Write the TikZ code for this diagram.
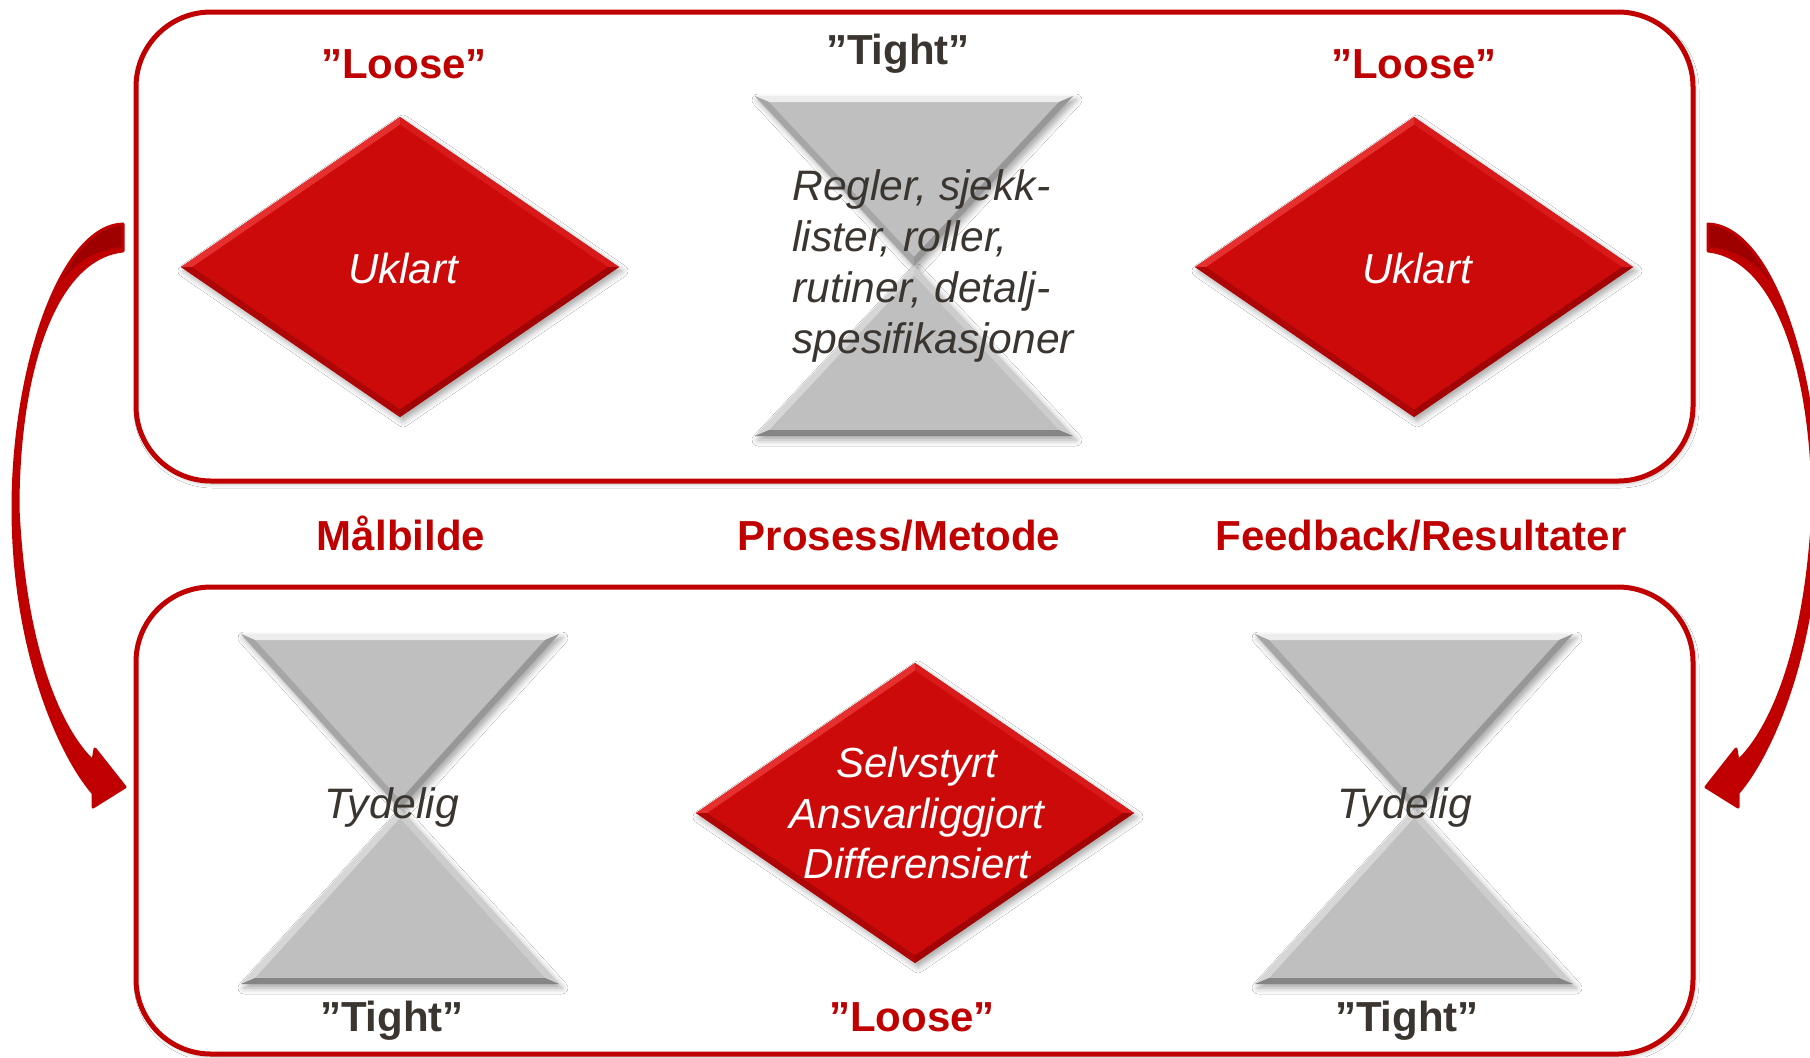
\documentclass[tikz,border=0pt]{standalone}
\usepackage{fontspec}
\setmainfont{Liberation Sans}
\usetikzlibrary{shadows.blur}
\definecolor{boxred}{HTML}{C00000}
\definecolor{dmred}{HTML}{CC0A0A}
\definecolor{dmlight}{HTML}{E63030}
\definecolor{dmmid}{HTML}{D81A1A}
\definecolor{dmdark}{HTML}{A00404}
\definecolor{dmdarkb}{HTML}{AE0606}
\definecolor{txtdark}{HTML}{3B3530}
\definecolor{hgfill}{HTML}{BFBFBF}
\definecolor{hgtop}{HTML}{EDEDED}
\definecolor{hgleft}{HTML}{A6A6A6}
\definecolor{hgright}{HTML}{979797}
\definecolor{hgbl}{HTML}{D6D6D6}
\definecolor{hgbr}{HTML}{CDCDCD}
\definecolor{hgbot}{HTML}{858585}
\definecolor{arrback}{HTML}{9E0000}

\tikzset{
 boxframe/.style={draw=boxred, line width=2.5pt, rounded corners=37.5pt, fill=white,
   blur shadow={shadow xshift=1pt, shadow yshift=-1.5pt, shadow blur radius=2pt, shadow opacity=25}},
 redlabel/.style={text=boxred, font=\bfseries\fontsize{21}{25}\selectfont, anchor=base, inner sep=0pt},
 darklabel/.style={text=txtdark, font=\bfseries\fontsize{21}{25}\selectfont, anchor=base, inner sep=0pt},
 whiteit/.style={text=white, font=\itshape\fontsize{21}{25}\selectfont, anchor=base, inner sep=0pt},
 darkit/.style={text=txtdark, font=\itshape\fontsize{21.3}{25}\selectfont, anchor=base, inner sep=0pt},
 softshadow/.style={blur shadow={shadow xshift=1.5pt, shadow yshift=-2pt, shadow blur radius=3pt, shadow opacity=35}},
 arrowbody/.style={fill=boxred},
 arrowrim/.style={draw=boxred, line width=1.5pt, line join=round},
}

\newcommand\drawbevdiamond[1]{%
 \begin{scope}[shift={(#1)}]
  \fill[dmred, softshadow] (0,-150) -- (219,0) -- (0,150) -- (-219,0) -- cycle;
  \fill[dmlight] (-219,0) -- (0,-150) -- (0,-142.5) -- (-208,0) -- cycle;
  \fill[dmmid] (0,-150) -- (219,0) -- (208,0) -- (0,-142.5) -- cycle;
  \fill[dmdark] (219,0) -- (0,150) -- (0,142.5) -- (208,0) -- cycle;
  \fill[dmdarkb] (0,150) -- (-219,0) -- (-208,0) -- (0,142.5) -- cycle;
 \end{scope}}

% #1 centre, #2 half height
\newcommand\drawhourglass[2]{%
 \begin{scope}[shift={(#1)}]
  \fill[hgfill, softshadow] (-159,-#2) -- (159,-#2) -- (0,0) -- cycle;
  \fill[hgfill, softshadow] (-159,#2) -- (159,#2) -- (0,0) -- cycle;
  \fill[hgtop] (-159,-#2) -- (159,-#2) -- (145,-#2+6) -- (-145,-#2+6) -- cycle;
  \fill[hgright] (159,-#2) -- (0,0) -- (0,-9) -- (145,-#2+6) -- cycle;
  \fill[hgleft] (0,0) -- (-159,-#2) -- (-145,-#2+6) -- (0,-9) -- cycle;
  \fill[hgbl] (0,0) -- (-159,#2) -- (-145,#2-6) -- (0,9) -- cycle;
  \fill[hgbr] (159,#2) -- (0,0) -- (0,9) -- (145,#2-6) -- cycle;
  \fill[hgbot] (-159,#2) -- (159,#2) -- (145,#2-6) -- (-145,#2-6) -- cycle;
 \end{scope}}

\newcommand\arrowoutline{(123,224) .. controls (60,226) and (13,370) .. (13,508)
     .. controls (13,650) and (60,755) .. (93,793) -- (93,807) -- (125,787) -- (95,749) -- (93,761)
     .. controls (65,735) and (25,660) .. (18,508)
     .. controls (18,370) and (55,258) .. (123,251) -- cycle}

\newcommand\drawcurvearrow{%
  \fill[arrowbody] \arrowoutline;
  \begin{scope}
    \clip \arrowoutline;
    \fill[arrback] (135,190) -- (135,247) -- (123,247) .. controls (75,250) and (40,290) .. (22,380)
       -- (0,380) -- (0,190) -- cycle;
  \end{scope}
  \draw[arrowrim] \arrowoutline;}

\begin{document}
\begin{tikzpicture}[x=0.5pt, y=-0.5pt]
\clip (0,0) rectangle (1810,1057);
\fill[white] (0,0) rectangle (1810,1057);

% frames
\draw[boxframe] (136,12) rectangle (1693,481);
\draw[boxframe] (136,587) rectangle (1693,1054);

% curved arrows
\drawcurvearrow
\begin{scope}[shift={(1831,0)}, xscale=-1]
\drawcurvearrow
\end{scope}

% shape anchors
\coordinate (dmL) at (400,267);
\coordinate (dmR) at (1414,267);
\coordinate (dmB) at (915,813);
\coordinate (hgT) at (914,266);
\coordinate (hgL) at (400,809);
\coordinate (hgR) at (1414,809);

\drawbevdiamond{dmL}
\drawbevdiamond{dmR}
\drawbevdiamond{dmB}
\drawhourglass{hgT}{170}
\drawhourglass{hgL}{175}
\drawhourglass{hgR}{175}

% top labels
\node[redlabel] (looseTL) at (404,78) {”Loose”};
\node[darklabel] (tightT) at (898,64) {”Tight”};
\node[redlabel] (looseTR) at (1414,78) {”Loose”};

% middle labels
\node[redlabel] (malb) at (401,550) {Målbilde};
\node[redlabel] (prosm) at (899,550) {Prosess/Metode};
\node[redlabel] (feedr) at (1421,550) {Feedback/Resultater};

% bottom labels
\node[darklabel] (tightBL) at (392,1031) {”Tight”};
\node[redlabel] (looseB) at (912,1031) {”Loose”};
\node[darklabel] (tightBR) at (1407,1031) {”Tight”};

% diamond texts
\node[whiteit] (uklL) at (403,283) {Uklart};
\node[whiteit] (uklR) at (1417,283) {Uklart};
\node[whiteit] (selv1) at (917,777) {Selvstyrt};
\node[whiteit] (selv2) at (917,828) {Ansvarliggjort};
\node[whiteit] (selv3) at (917,878) {Differensiert};

% hourglass texts
\node[darkit, anchor=base west] (reg1) at (792,200) {Regler, sjekk-};
\node[darkit, anchor=base west] (reg2) at (792,251) {lister, roller,};
\node[darkit, anchor=base west] (reg3) at (792,302) {rutiner, detalj-};
\node[darkit, anchor=base west] (reg4) at (792,353) {spesifikasjoner};
\node[darkit] (tydL) at (392,818) {Tydelig};
\node[darkit] (tydR) at (1405,818) {Tydelig};
\end{tikzpicture}
\end{document}
